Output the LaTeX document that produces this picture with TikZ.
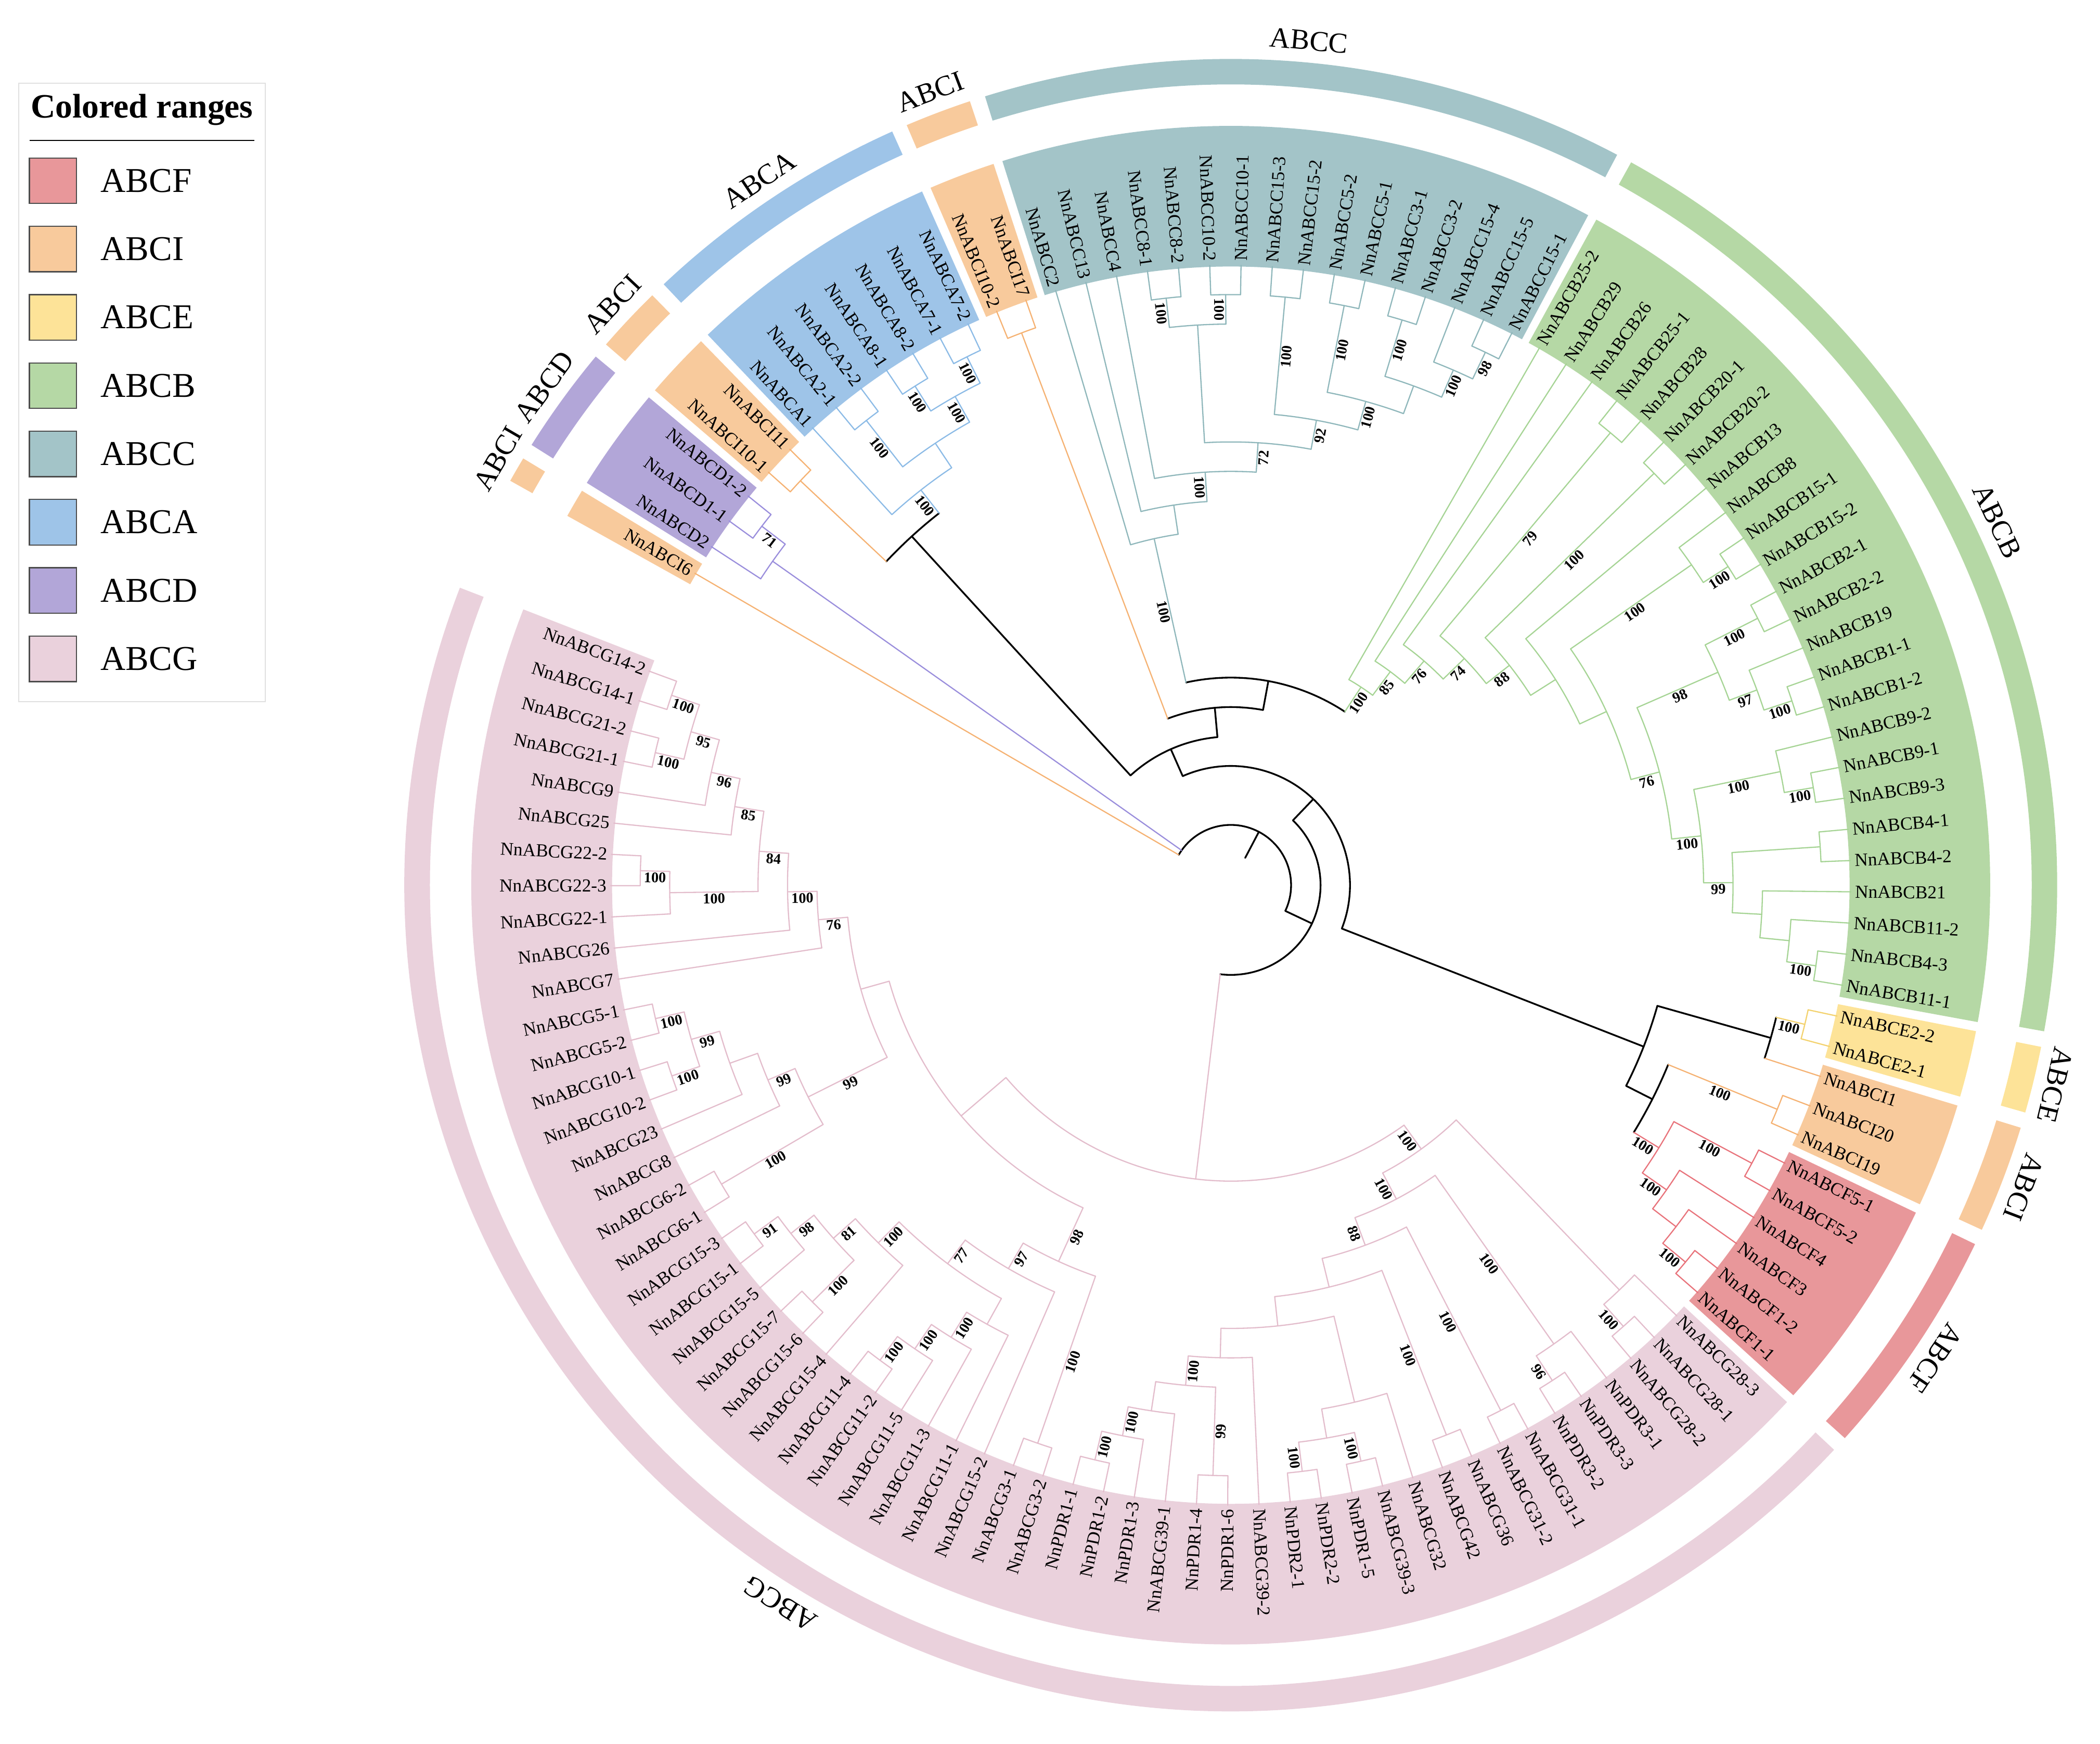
\documentclass[tikz,border=0pt]{standalone}
\usepackage{fontspec}
\setmainfont{Liberation Serif}
\usepackage{tikz}

\definecolor{fillF}{HTML}{E8979A}
\definecolor{fillI}{HTML}{F8CA9C}
\definecolor{fillE}{HTML}{FDE398}
\definecolor{fillB}{HTML}{B5D8A5}
\definecolor{fillC}{HTML}{A3C4C8}
\definecolor{fillA}{HTML}{9EC4E8}
\definecolor{fillD}{HTML}{B2A6D8}
\definecolor{fillG}{HTML}{EAD1DC}
\definecolor{lineF}{HTML}{E8737B}
\definecolor{lineI}{HTML}{F5B273}
\definecolor{lineE}{HTML}{F3D26E}
\definecolor{lineB}{HTML}{A6D495}
\definecolor{lineC}{HTML}{8FB7BB}
\definecolor{lineA}{HTML}{8CBBE6}
\definecolor{lineD}{HTML}{9A8EDC}
\definecolor{lineG}{HTML}{E3BDCC}

\tikzset{
  bF/.style={draw=lineF,line width=0.9pt,line cap=round},
  bI/.style={draw=lineI,line width=0.9pt,line cap=round},
  bE/.style={draw=lineE,line width=0.9pt,line cap=round},
  bB/.style={draw=lineB,line width=0.9pt,line cap=round},
  bC/.style={draw=lineC,line width=0.9pt,line cap=round},
  bA/.style={draw=lineA,line width=0.9pt,line cap=round},
  bD/.style={draw=lineD,line width=0.9pt,line cap=round},
  bG/.style={draw=lineG,line width=0.9pt,line cap=round},
  bk/.style={draw=black,line width=1.3pt,line cap=round},
  leaflbl/.style={font=\fontsize{13.7}{14}\selectfont,inner sep=0pt},
  bsval/.style={font=\fontsize{11}{12}\selectfont\bfseries,inner sep=1pt},
  grplbl/.style={font=\fontsize{21.5}{22}\selectfont,inner sep=1pt},
  lgtext/.style={font=\fontsize{26}{28}\selectfont,inner sep=0pt,anchor=west},
  swatch/.style={draw=black!70,line width=0.9pt}
}

\def\azero{149.8}
\def\dstep{2.8926}
\def\rleaf{463}
\def\dh{22}

\newcommand\tip[4]{%
  \pgfmathsetmacro\ta{\azero-#2*\dstep}%
  \expandafter\xdef\csname ang@#1\endcsname{\ta}%
  \expandafter\xdef\csname hh@#1\endcsname{0}%
  \expandafter\xdef\csname col@#1\endcsname{#4}%
  \expandafter\gdef\csname bs@#1\endcsname{}%
  \coordinate (#1) at (\ta:\rleaf);%
  \pgfmathtruncatemacro\isleft{cos(\ta)<0}%
  \ifnum\isleft=1
    \node[leaflbl,rotate=\ta+180,anchor=east] (lbl#1) at (\ta:466) {#3};%
  \else
    \node[leaflbl,rotate=\ta,anchor=west] (lbl#1) at (\ta:466) {#3};%
  \fi}

\newcommand\treelink[2]{%
  \edef\lkang{\csname ang@#1\endcsname}%
  \pgfmathsetmacro\lkrad{\rleaf-\dh*\csname hh@#1\endcsname}%
  \edef\brdraw{\noexpand\draw[\csname col@#1\endcsname]}%
  \brdraw (\lkang:#2) -- (#1);%
  \edef\lkbs{\csname bs@#1\endcsname}%
  \ifx\lkbs\empty\else
    \pgfmathsetmacro\lkmid{(#2+\lkrad)/2}%
    \pgfmathtruncatemacro\isleft{cos(\lkang)<0}%
    \ifnum\isleft=1
      \node[bsval,rotate=\lkang+180,anchor=north] at (\lkang:\lkmid) {\lkbs};%
    \else
      \node[bsval,rotate=\lkang,anchor=north] at (\lkang:\lkmid) {\lkbs};%
    \fi
  \fi}

\newcommand\clade[5]{%
  \edef\cla{\csname ang@#2\endcsname}%
  \edef\clb{\csname ang@#3\endcsname}%
  \pgfmathtruncatemacro\clh{max(\csname hh@#2\endcsname,\csname hh@#3\endcsname)+1}%
  \pgfmathsetmacro\clang{(\cla+\clb)/2}%
  \pgfmathsetmacro\clrad{\rleaf-\dh*\clh}%
  \coordinate (#1) at (\clang:\clrad);%
  \draw[#4] (\cla:\clrad) arc[start angle=\cla,end angle=\clb,radius=\clrad];%
  \treelink{#2}{\clrad}\treelink{#3}{\clrad}%
  \expandafter\xdef\csname ang@#1\endcsname{\clang}%
  \expandafter\xdef\csname hh@#1\endcsname{\clh}%
  \expandafter\xdef\csname col@#1\endcsname{#4}%
  \expandafter\xdef\csname bs@#1\endcsname{#5}}

\newcommand\cladethree[6]{%
  \edef\cla{\csname ang@#2\endcsname}%
  \edef\clb{\csname ang@#4\endcsname}%
  \pgfmathtruncatemacro\clh{max(\csname hh@#2\endcsname,\csname hh@#3\endcsname,\csname hh@#4\endcsname)+1}%
  \pgfmathsetmacro\clang{(\cla+\clb)/2}%
  \pgfmathsetmacro\clrad{\rleaf-\dh*\clh}%
  \coordinate (#1) at (\clang:\clrad);%
  \draw[#5] (\cla:\clrad) arc[start angle=\cla,end angle=\clb,radius=\clrad];%
  \treelink{#2}{\clrad}\treelink{#3}{\clrad}\treelink{#4}{\clrad}%
  \expandafter\xdef\csname ang@#1\endcsname{\clang}%
  \expandafter\xdef\csname hh@#1\endcsname{\clh}%
  \expandafter\xdef\csname col@#1\endcsname{#5}%
  \expandafter\xdef\csname bs@#1\endcsname{#6}}

\newcommand\crange[4]{%
  \pgfmathsetmacro\rga{\azero-(#1-0.5)*\dstep-0.35}%
  \pgfmathsetmacro\rgb{\azero-(#2+0.5)*\dstep+0.35}%
  \fill[#3] (\rga:462) arc[start angle=\rga,end angle=\rgb,radius=462]
    -- (\rgb:567) arc[start angle=\rgb,end angle=\rga,radius=567] -- cycle;%
  \pgfmathsetmacro\rga{\rga-0.2}%
  \pgfmathsetmacro\rgb{\rgb+0.2}%
  \fill[#3] (\rga:598) arc[start angle=\rga,end angle=\rgb,radius=598]
    -- (\rgb:617) arc[start angle=\rgb,end angle=\rga,radius=617] -- cycle;%
  \pgfmathsetmacro\rgm{(\rga+\rgb)/2}%
  \node[grplbl,rotate=\rgm-90,anchor=south] at (\rgm:625) {#4};}

\begin{document}
\begin{tikzpicture}[x=1pt,y=1pt]
\useasboundingbox (0,0) rectangle (1568,1302);

\draw[black!12,line width=0.8pt] (14,778) rectangle (198,1240);
\node[font=\fontsize{25.5}{27}\selectfont\bfseries] (lgtitle) at (106,1220) {Colored ranges};
\draw[line width=0.8pt] (22,1197) -- (190,1197);
\foreach \c/\t [count=\k from 0] in {fillF/ABCF,fillI/ABCI,fillE/ABCE,fillB/ABCB,fillC/ABCC,fillA/ABCA,fillD/ABCD,fillG/ABCG}{
  \draw[swatch,fill=\c] (22,1150-51*\k) rectangle (57,1184-51*\k);
  \node[lgtext] (lg\t) at (75,1167-51*\k) {\t};
}

\begin{scope}[shift={(919,641)}]
\crange{0}{0}{fillI}{ABCI}
\crange{1}{3}{fillD}{ABCD}
\crange{4}{5}{fillI}{ABCI}
\crange{6}{12}{fillA}{ABCA}
\crange{13}{14}{fillI}{ABCI}
\crange{15}{30}{fillC}{ABCC}
\crange{31}{55}{fillB}{ABCB}
\crange{56}{57}{fillE}{ABCE}
\crange{58}{60}{fillI}{ABCI}
\crange{61}{66}{fillF}{ABCF}
\crange{67}{121}{fillG}{ABCG}

\tip{I6}{0}{NnABCI6}{bI}
\tip{D2}{1}{NnABCD2}{bD}
\tip{D11}{2}{NnABCD1-1}{bD}
\tip{D12}{3}{NnABCD1-2}{bD}
\tip{I101}{4}{NnABCI10-1}{bI}
\tip{I11}{5}{NnABCI11}{bI}
\tip{A1}{6}{NnABCA1}{bA}
\tip{A21}{7}{NnABCA2-1}{bA}
\tip{A22}{8}{NnABCA2-2}{bA}
\tip{A81}{9}{NnABCA8-1}{bA}
\tip{A82}{10}{NnABCA8-2}{bA}
\tip{A71}{11}{NnABCA7-1}{bA}
\tip{A72}{12}{NnABCA7-2}{bA}
\tip{I102}{13}{NnABCI10-2}{bI}
\tip{I17}{14}{NnABCI17}{bI}
\tip{C2}{15}{NnABCC2}{bC}
\tip{C13}{16}{NnABCC13}{bC}
\tip{C4}{17}{NnABCC4}{bC}
\tip{C81}{18}{NnABCC8-1}{bC}
\tip{C82}{19}{NnABCC8-2}{bC}
\tip{C102}{20}{NnABCC10-2}{bC}
\tip{C101}{21}{NnABCC10-1}{bC}
\tip{C153}{22}{NnABCC15-3}{bC}
\tip{C152}{23}{NnABCC15-2}{bC}
\tip{C52}{24}{NnABCC5-2}{bC}
\tip{C51}{25}{NnABCC5-1}{bC}
\tip{C31}{26}{NnABCC3-1}{bC}
\tip{C32}{27}{NnABCC3-2}{bC}
\tip{C154}{28}{NnABCC15-4}{bC}
\tip{C155}{29}{NnABCC15-5}{bC}
\tip{C151}{30}{NnABCC15-1}{bC}
\tip{B252}{31}{NnABCB25-2}{bB}
\tip{B29}{32}{NnABCB29}{bB}
\tip{B26}{33}{NnABCB26}{bB}
\tip{B251}{34}{NnABCB25-1}{bB}
\tip{B28}{35}{NnABCB28}{bB}
\tip{B201}{36}{NnABCB20-1}{bB}
\tip{B202}{37}{NnABCB20-2}{bB}
\tip{B13}{38}{NnABCB13}{bB}
\tip{B8}{39}{NnABCB8}{bB}
\tip{B151}{40}{NnABCB15-1}{bB}
\tip{B152}{41}{NnABCB15-2}{bB}
\tip{B2a}{42}{NnABCB2-1}{bB}
\tip{B2b}{43}{NnABCB2-2}{bB}
\tip{B19}{44}{NnABCB19}{bB}
\tip{B1a}{45}{NnABCB1-1}{bB}
\tip{B1b}{46}{NnABCB1-2}{bB}
\tip{B92}{47}{NnABCB9-2}{bB}
\tip{B91}{48}{NnABCB9-1}{bB}
\tip{B93}{49}{NnABCB9-3}{bB}
\tip{B41}{50}{NnABCB4-1}{bB}
\tip{B42}{51}{NnABCB4-2}{bB}
\tip{B21}{52}{NnABCB21}{bB}
\tip{B112}{53}{NnABCB11-2}{bB}
\tip{B43}{54}{NnABCB4-3}{bB}
\tip{B111}{55}{NnABCB11-1}{bB}
\tip{E22}{56}{NnABCE2-2}{bE}
\tip{E21}{57}{NnABCE2-1}{bE}
\tip{I1}{58}{NnABCI1}{bI}
\tip{I20}{59}{NnABCI20}{bI}
\tip{I19}{60}{NnABCI19}{bI}
\tip{F51}{61}{NnABCF5-1}{bF}
\tip{F52}{62}{NnABCF5-2}{bF}
\tip{F4}{63}{NnABCF4}{bF}
\tip{F3}{64}{NnABCF3}{bF}
\tip{F12}{65}{NnABCF1-2}{bF}
\tip{F11}{66}{NnABCF1-1}{bF}
\tip{G283}{67}{NnABCG28-3}{bG}
\tip{G281}{68}{NnABCG28-1}{bG}
\tip{G282}{69}{NnABCG28-2}{bG}
\tip{P31}{70}{NnPDR3-1}{bG}
\tip{P33}{71}{NnPDR3-3}{bG}
\tip{P32}{72}{NnPDR3-2}{bG}
\tip{G311}{73}{NnABCG31-1}{bG}
\tip{G312}{74}{NnABCG31-2}{bG}
\tip{G36}{75}{NnABCG36}{bG}
\tip{G42}{76}{NnABCG42}{bG}
\tip{G32}{77}{NnABCG32}{bG}
\tip{G393}{78}{NnABCG39-3}{bG}
\tip{P15}{79}{NnPDR1-5}{bG}
\tip{P22}{80}{NnPDR2-2}{bG}
\tip{P21}{81}{NnPDR2-1}{bG}
\tip{G392}{82}{NnABCG39-2}{bG}
\tip{P16}{83}{NnPDR1-6}{bG}
\tip{P14}{84}{NnPDR1-4}{bG}
\tip{G391}{85}{NnABCG39-1}{bG}
\tip{P13}{86}{NnPDR1-3}{bG}
\tip{P12}{87}{NnPDR1-2}{bG}
\tip{P11}{88}{NnPDR1-1}{bG}
\tip{G3b}{89}{NnABCG3-2}{bG}
\tip{G3a}{90}{NnABCG3-1}{bG}
\tip{G152}{91}{NnABCG15-2}{bG}
\tip{G111}{92}{NnABCG11-1}{bG}
\tip{G113}{93}{NnABCG11-3}{bG}
\tip{G115}{94}{NnABCG11-5}{bG}
\tip{G112}{95}{NnABCG11-2}{bG}
\tip{G114}{96}{NnABCG11-4}{bG}
\tip{G154}{97}{NnABCG15-4}{bG}
\tip{G156}{98}{NnABCG15-6}{bG}
\tip{G157}{99}{NnABCG15-7}{bG}
\tip{G155}{100}{NnABCG15-5}{bG}
\tip{G151}{101}{NnABCG15-1}{bG}
\tip{G153}{102}{NnABCG15-3}{bG}
\tip{G61}{103}{NnABCG6-1}{bG}
\tip{G62}{104}{NnABCG6-2}{bG}
\tip{G8}{105}{NnABCG8}{bG}
\tip{G23}{106}{NnABCG23}{bG}
\tip{G102}{107}{NnABCG10-2}{bG}
\tip{G101}{108}{NnABCG10-1}{bG}
\tip{G52}{109}{NnABCG5-2}{bG}
\tip{G51}{110}{NnABCG5-1}{bG}
\tip{G7}{111}{NnABCG7}{bG}
\tip{G26}{112}{NnABCG26}{bG}
\tip{G221}{113}{NnABCG22-1}{bG}
\tip{G223}{114}{NnABCG22-3}{bG}
\tip{G222}{115}{NnABCG22-2}{bG}
\tip{G25}{116}{NnABCG25}{bG}
\tip{G9}{117}{NnABCG9}{bG}
\tip{G211}{118}{NnABCG21-1}{bG}
\tip{G212}{119}{NnABCG21-2}{bG}
\tip{G141}{120}{NnABCG14-1}{bG}
\tip{G142}{121}{NnABCG14-2}{bG}

\clade{nD1}{D11}{D12}{bD}{71}
\clade{nD}{D2}{nD1}{bD}{}
\clade{nAI}{I101}{I11}{bI}{}
\clade{nA2}{A21}{A22}{bA}{100}
\clade{nA8}{A81}{A82}{bA}{100}
\clade{nA7}{A71}{A72}{bA}{100}
\clade{nA87}{nA8}{nA7}{bA}{100}
\clade{nA287}{nA2}{nA87}{bA}{}
\clade{nAr}{A1}{nA287}{bA}{100}
\clade{nAall}{nAI}{nAr}{bk}{}
\clade{nI17}{I102}{I17}{bI}{}

\clade{nC8}{C81}{C82}{bC}{100}
\clade{nC10}{C102}{C101}{bC}{100}
\clade{nC810}{nC8}{nC10}{bC}{}
\clade{nC15}{C153}{C152}{bC}{100}
\clade{nC5}{C52}{C51}{bC}{100}
\clade{nC3}{C31}{C32}{bC}{100}
\clade{nC98}{C155}{C151}{bC}{98}
\clade{nCZ}{C154}{nC98}{bC}{100}
\clade{nCY}{nC3}{nCZ}{bC}{}
\clade{nCX}{nC5}{nCY}{bC}{100}
\clade{nC92}{nC15}{nCX}{bC}{92}
\clade{nC72}{nC810}{nC92}{bC}{72}
\clade{nC4}{C4}{nC72}{bC}{100}
\clade{nC13}{C13}{nC4}{bC}{}
\clade{nCr}{C2}{nC13}{bC}{100}

\clade{nB2528}{B251}{B28}{bB}{79}
\clade{nB20}{B201}{B202}{bB}{100}
\clade{nB15}{B151}{B152}{bB}{100}
\clade{nB815}{B8}{nB15}{bB}{100}
\clade{nB2}{B2a}{B2b}{bB}{100}
\clade{nB1}{B1a}{B1b}{bB}{100}
\clade{nB191}{B19}{nB1}{bB}{97}
\clade{nB98}{nB2}{nB191}{bB}{98}
\clade{nB9p}{B91}{B93}{bB}{100}
\clade{nB9}{B92}{nB9p}{bB}{100}
\clade{nB4}{B41}{B42}{bB}{}
\clade{nB4311}{B43}{B111}{bB}{100}
\clade{nBh2}{B112}{nB4311}{bB}{}
\clade{nBh3}{B21}{nBh2}{bB}{}
\clade{nB99}{nB4}{nBh3}{bB}{99}
\clade{nB100}{nB9}{nB99}{bB}{100}
\clade{nB76}{nB98}{nB100}{bB}{76}
\clade{nBh7}{nB815}{nB76}{bB}{}
\clade{nBh8}{B13}{nBh7}{bB}{}
\clade{nB88}{nB20}{nBh8}{bB}{88}
\clade{nB74}{nB2528}{nB88}{bB}{74}
\clade{nB76b}{B26}{nB74}{bB}{76}
\clade{nB85}{B29}{nB76b}{bB}{85}
\clade{nBr}{B252}{nB85}{bB}{100}
\clade{N6}{nCr}{nBr}{bk}{}
\clade{N5}{nI17}{N6}{bk}{}
\clade{N4}{nAall}{N5}{bk}{}

\clade{nE}{E22}{E21}{bE}{100}
\clade{nEI}{nE}{I1}{bk}{}
\clade{nI2019}{I20}{I19}{bI}{100}
\clade{nF5}{F51}{F52}{bF}{100}
\clade{nF1}{F12}{F11}{bF}{100}
\clade{nF31}{F3}{nF1}{bF}{}
\clade{nFs}{F4}{nF31}{bF}{100}
\clade{nFr}{nF5}{nFs}{bF}{100}
\clade{nIF}{nI2019}{nFr}{bk}{}
\clade{nEIF}{nEI}{nIF}{bk}{}
\clade{N3}{N4}{nEIF}{bk}{}

\clade{nG28p}{G281}{G282}{bG}{100}
\clade{nG28}{G283}{nG28p}{bG}{}
\clade{nP3p}{P33}{P32}{bG}{96}
\clade{nP3}{P31}{nP3p}{bG}{100}
\clade{nG31}{G311}{G312}{bG}{100}
\clade{nG3642}{G36}{G42}{bG}{100}
\clade{nGf}{G393}{P15}{bG}{100}
\clade{nGg}{P22}{P21}{bG}{100}
\clade{nGfg}{nGf}{nGg}{bG}{}
\clade{nGU}{G32}{nGfg}{bG}{}
\clade{nP16}{P16}{P14}{bG}{99}
\clade{nP12}{P12}{P11}{bG}{100}
\clade{nP2}{P13}{nP12}{bG}{100}
\clade{nP3x}{G391}{nP2}{bG}{}
\clade{nQ}{nP16}{nP3x}{bG}{100}
\clade{nR}{G392}{nQ}{bG}{}
\clade{nW6}{nGU}{nR}{bG}{}
\clade{nW7}{nG3642}{nW6}{bG}{}
\clade{nV8}{nG31}{nW7}{bG}{88}
\clade{nV9}{nP3}{nV8}{bG}{100}
\clade{nGright}{nG28}{nV9}{bG}{100}

\clade{nG3}{G3b}{G3a}{bG}{100}
\clade{nG11p}{G112}{G114}{bG}{100}
\clade{nG11h2}{G115}{nG11p}{bG}{100}
\clade{nG11h3}{G113}{nG11h2}{bG}{100}
\clade{nG11}{G111}{nG11h3}{bG}{}
\clade{nG91}{G151}{G153}{bG}{91}
\clade{nG98}{G155}{nG91}{bG}{98}
\clade{nG76p}{G156}{G157}{bG}{100}
\clade{nG81}{nG76p}{nG98}{bG}{81}
\clade{nG100d}{G154}{nG81}{bG}{100}
\clade{nG77}{nG11}{nG100d}{bG}{77}
\clade{nG97}{G152}{nG77}{bG}{97}
\clade{nG98b}{nG3}{nG97}{bG}{98}
\clade{nG6}{G61}{G62}{bG}{100}
\clade{nG10}{G102}{G101}{bG}{100}
\clade{nG5}{G52}{G51}{bG}{100}
\clade{nG99a}{nG10}{nG5}{bG}{99}
\clade{nG23}{G23}{nG99a}{bG}{}
\clade{nG99b}{G8}{nG23}{bG}{99}
\clade{nG100e}{nG6}{nG99b}{bG}{99}
\clade{nG22p}{G223}{G222}{bG}{100}
\clade{nG22}{G221}{nG22p}{bG}{100}
\clade{nG14}{G141}{G142}{bG}{100}
\clade{nG21}{G211}{G212}{bG}{100}
\clade{nG95}{nG21}{nG14}{bG}{95}
\clade{nG96}{G9}{nG95}{bG}{96}
\clade{nG85}{G25}{nG96}{bG}{85}
\clade{nG84}{nG22}{nG85}{bG}{84}
\clade{nG100a}{G26}{nG84}{bG}{100}
\clade{nG76}{G7}{nG100a}{bG}{76}
\clade{nGY}{nG100e}{nG76}{bG}{}
\clade{nGleft}{nG98b}{nGY}{bG}{}
\clade{nGr}{nGright}{nGleft}{bG}{}
\clade{N2}{N3}{nGr}{bk}{}

\cladethree{root}{I6}{nD}{N2}{bk}{}
\coordinate (stub) at (\clang:23);
\draw[bk] (root) -- (stub);
\end{scope}
\end{tikzpicture}
\end{document}
